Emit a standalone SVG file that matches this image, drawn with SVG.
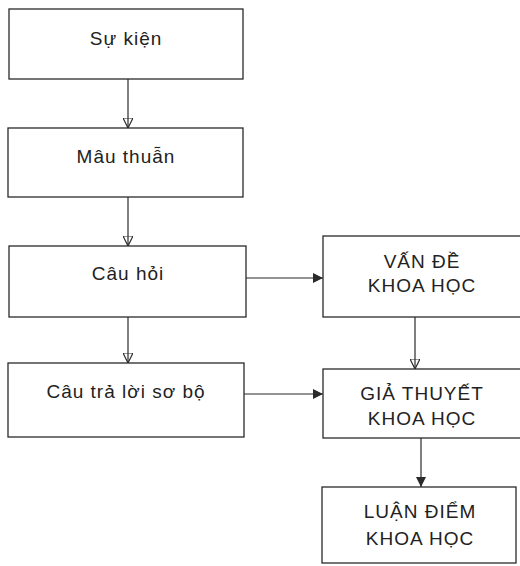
<svg xmlns="http://www.w3.org/2000/svg" width="520" height="566" viewBox="0 0 520 566">
<style>
.box{fill:#fff;stroke:#2a2a2a;stroke-width:1.3}
.t{font-family:"Liberation Sans",Arial,sans-serif;font-size:19px;letter-spacing:1px;fill:#222;text-anchor:middle}
.c{stroke:#2a2a2a;stroke-width:1.2;fill:none}
</style>
<defs>
<marker id="ho" viewBox="0 0 10 10" refX="10" refY="5" markerWidth="10" markerHeight="10" markerUnits="userSpaceOnUse" orient="auto">
<path d="M0,0 L10,5 L0,10 Z" fill="none" stroke="#2a2a2a" stroke-width="1.2"/>
</marker>
<marker id="fi" viewBox="0 0 10 10" refX="10" refY="5" markerWidth="11" markerHeight="10" markerUnits="userSpaceOnUse" orient="auto">
<path d="M0,0 L10,5 L0,10 Z" fill="#2a2a2a"/>
</marker>
</defs>
<rect width="520" height="566" fill="#fff"/>
<g id="connectors">
<line class="c" x1="128" y1="79" x2="128" y2="128" marker-end="url(#ho)"/>
<line class="c" x1="128" y1="197" x2="128" y2="246" marker-end="url(#ho)"/>
<line class="c" x1="128" y1="317" x2="128" y2="363" marker-end="url(#ho)"/>
<line class="c" x1="246" y1="278" x2="323" y2="278" marker-end="url(#fi)"/>
<line class="c" x1="244" y1="394" x2="323" y2="394" marker-end="url(#fi)"/>
<line class="c" x1="415" y1="317" x2="415" y2="369" marker-end="url(#ho)"/>
<line class="c" x1="421" y1="438" x2="421" y2="487" marker-end="url(#fi)"/>
</g>
<g id="su-kien"><rect class="box" x="9" y="9" width="234" height="70"/><text class="t" x="126" y="45">Sự kiện</text></g>
<g id="mau-thuan"><rect class="box" x="8" y="128" width="235" height="69"/><text class="t" x="126" y="163">Mâu thuẫn</text></g>
<g id="cau-hoi"><rect class="box" x="9" y="246" width="237" height="71"/><text class="t" x="128" y="280">Câu hỏi</text></g>
<g id="cau-tra-loi"><rect class="box" x="8" y="363" width="236" height="74"/><text class="t" x="126" y="398">Câu trả lời sơ bộ</text></g>
<g id="van-de"><rect class="box" x="323" y="236" width="200" height="81"/><text class="t" x="422" y="268">VẤN ĐỀ</text><text class="t" x="422" y="292">KHOA HỌC</text></g>
<g id="gia-thuyet"><rect class="box" x="323" y="369" width="200" height="69"/><text class="t" x="422" y="400">GIẢ THUYẾT</text><text class="t" x="422" y="425">KHOA HỌC</text></g>
<g id="luan-diem"><rect class="box" x="322" y="487" width="194" height="76"/><text class="t" x="420" y="518">LUẬN ĐIỂM</text><text class="t" x="420" y="545">KHOA HỌC</text></g>
</svg>
